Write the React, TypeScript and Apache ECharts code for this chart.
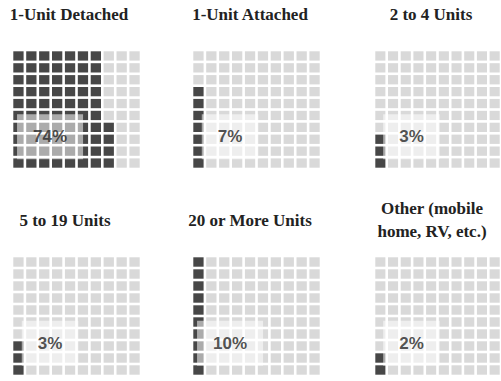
import React, { useEffect, useRef } from "react";
import * as echarts from "echarts";

// Housing types and their share of the total (percent)
const categories = [
  "1-Unit Detached",
  "1-Unit Attached",
  "2 to 4 Units",
  "5 to 19 Units",
  "20 or More Units",
  "Other (mobile\nhome, RV, etc.)",
];
const shares = [74, 7, 3, 3, 10, 2];
const shareLabels = ["74%", "7%", "3%", "3%", "10%", "2%"];

// Panel placement (pixels)
const gridLefts = [12, 192, 374, 12, 192, 374];
const gridTops = [50, 50, 50, 256, 256, 256];
const gridWidth = 129;
const gridHeights = [119, 119, 119, 120, 120, 120];
const titleXs = [69, 250, 431, 65, 250, 432];
const titleYs = [14, 14, 14, 220, 220, 220];

const FILLED = "#474747";
const EMPTY = "#d9d9d9";

// 10 x 10 waffle: columns fill left to right, each from the bottom up
function waffleCells(share: number) {
  const cells: number[][] = [];
  for (let i = 0; i < 100; i++) {
    const col = Math.floor(i / 10);
    const row = i % 10;
    cells.push([col, row, i < share ? 1 : 0]);
  }
  return cells;
}

export default function App() {
  const ref = useRef<HTMLDivElement>(null);

  useEffect(() => {
    if (!ref.current) return;
    const chart = echarts.init(ref.current, null, { renderer: "svg" });

    const grids: any[] = [];
    const xAxes: any[] = [];
    const yAxes: any[] = [];
    const series: any[] = [];
    const graphics: any[] = [];

    categories.forEach((name, k) => {
      grids.push({
        left: gridLefts[k],
        top: gridTops[k],
        width: gridWidth,
        height: gridHeights[k],
        containLabel: false,
      });
      xAxes.push({ type: "value", gridIndex: k, min: 0, max: 10, show: false });
      yAxes.push({ type: "value", gridIndex: k, min: 0, max: 10, show: false });

      series.push({
        type: "custom",
        xAxisIndex: k,
        yAxisIndex: k,
        z: 2,
        data: waffleCells(shares[k]),
        renderItem: (_params: any, api: any) => {
          const c = api.value(0);
          const r = api.value(1);
          const p0 = api.coord([c, r + 1]);
          const p1 = api.coord([c + 1, r]);
          const inset = 1.3;
          return {
            type: "rect",
            shape: {
              x: p0[0] + inset,
              y: p0[1] + inset,
              width: p1[0] - p0[0] - 2 * inset,
              height: p1[1] - p0[1] - 2 * inset,
            },
            style: { fill: api.value(2) ? FILLED : EMPTY },
          };
        },
      });

      // percentage label on a translucent white patch
      series.push({
        type: "scatter",
        xAxisIndex: k,
        yAxisIndex: k,
        z: 5,
        symbolSize: 0,
        data: [[2.95, 2.72]],
        label: {
          show: true,
          position: "inside",
          formatter: shareLabels[k],
          fontFamily: "'Liberation Sans', Arial, sans-serif",
          fontWeight: "bold",
          fontSize: 17,
          color: "#262626",
          backgroundColor: "rgba(255,255,255,0.68)",
          padding: [16, 16, 12, 16],
        },
      });

      graphics.push({
        type: "text",
        x: titleXs[k],
        y: titleYs[k],
        style: {
          text: name,
          font: "bold 17px 'Liberation Serif'",
          fill: "#222222",
          align: "center",
          verticalAlign: "middle",
          textAlign: "center",
          textVerticalAlign: "middle",
          lineHeight: 23,
        },
      });
    });

    chart.setOption({
      animation: false,
      backgroundColor: "#ffffff",
      grid: grids,
      xAxis: xAxes,
      yAxis: yAxes,
      series,
      graphic: graphics,
    });

    return () => chart.dispose();
  }, []);

  return (
    <div
      ref={ref}
      style={{ position: "fixed", left: 0, top: 0, width: 501, height: 381 }}
    />
  );
}
